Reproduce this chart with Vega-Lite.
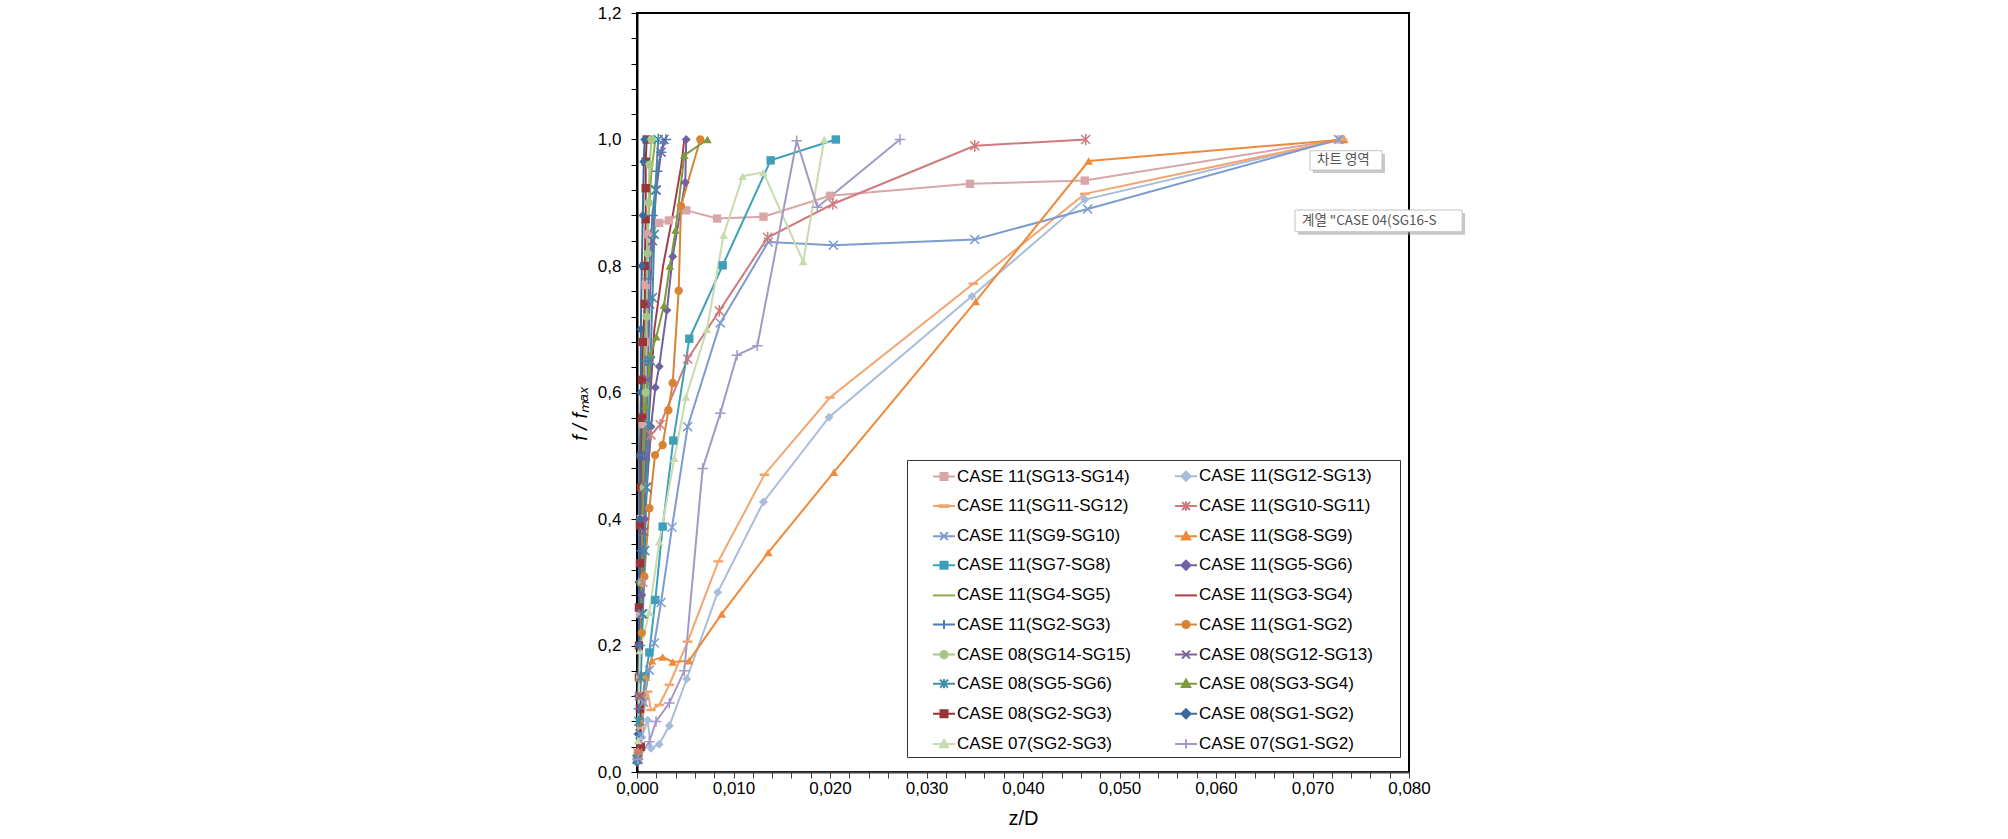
{
  "$schema": "https://vega.github.io/schema/vega-lite/v6.json",
  "autosize": "none",
  "width": 772,
  "height": 759,
  "padding": {"left": 637, "top": 13, "right": 599, "bottom": 67},
  "background": "white",
  "config": {
    "font": "Liberation Sans",
    "view": {"stroke": "#000", "strokeWidth": 2}
  },
  "data": {"values": [
    {"series":"CASE 11(SG13-SG14)","step":1,"zD":0.0001,"ff":0.03},
    {"series":"CASE 11(SG13-SG14)","step":2,"zD":0.0002,"ff":0.12},
    {"series":"CASE 11(SG13-SG14)","step":3,"zD":0.0003,"ff":0.25},
    {"series":"CASE 11(SG13-SG14)","step":4,"zD":0.0004,"ff":0.40},
    {"series":"CASE 11(SG13-SG14)","step":5,"zD":0.0006,"ff":0.55},
    {"series":"CASE 11(SG13-SG14)","step":6,"zD":0.0008,"ff":0.68},
    {"series":"CASE 11(SG13-SG14)","step":7,"zD":0.0009,"ff":0.77},
    {"series":"CASE 11(SG13-SG14)","step":8,"zD":0.0012,"ff":0.85},
    {"series":"CASE 11(SG13-SG14)","step":9,"zD":0.0023,"ff":0.868},
    {"series":"CASE 11(SG13-SG14)","step":10,"zD":0.0033,"ff":0.872},
    {"series":"CASE 11(SG13-SG14)","step":11,"zD":0.0051,"ff":0.888},
    {"series":"CASE 11(SG13-SG14)","step":12,"zD":0.0083,"ff":0.875},
    {"series":"CASE 11(SG13-SG14)","step":13,"zD":0.0131,"ff":0.878},
    {"series":"CASE 11(SG13-SG14)","step":14,"zD":0.0200,"ff":0.911},
    {"series":"CASE 11(SG13-SG14)","step":15,"zD":0.0345,"ff":0.930},
    {"series":"CASE 11(SG13-SG14)","step":16,"zD":0.0464,"ff":0.935},
    {"series":"CASE 11(SG13-SG14)","step":17,"zD":0.0729,"ff":1.000},

    {"series":"CASE 11(SG12-SG13)","step":1,"zD":0.0001,"ff":0.02},
    {"series":"CASE 11(SG12-SG13)","step":2,"zD":0.0005,"ff":0.055},
    {"series":"CASE 11(SG12-SG13)","step":3,"zD":0.0011,"ff":0.082},
    {"series":"CASE 11(SG12-SG13)","step":4,"zD":0.00145,"ff":0.0375},
    {"series":"CASE 11(SG12-SG13)","step":5,"zD":0.0023,"ff":0.044},
    {"series":"CASE 11(SG12-SG13)","step":6,"zD":0.00335,"ff":0.073},
    {"series":"CASE 11(SG12-SG13)","step":7,"zD":0.00515,"ff":0.147},
    {"series":"CASE 11(SG12-SG13)","step":8,"zD":0.00836,"ff":0.284},
    {"series":"CASE 11(SG12-SG13)","step":9,"zD":0.0131,"ff":0.427},
    {"series":"CASE 11(SG12-SG13)","step":10,"zD":0.0199,"ff":0.561},
    {"series":"CASE 11(SG12-SG13)","step":11,"zD":0.0347,"ff":0.752},
    {"series":"CASE 11(SG12-SG13)","step":12,"zD":0.0464,"ff":0.905},
    {"series":"CASE 11(SG12-SG13)","step":13,"zD":0.0730,"ff":1.000},

    {"series":"CASE 11(SG11-SG12)","step":1,"zD":0.0001,"ff":0.02},
    {"series":"CASE 11(SG11-SG12)","step":2,"zD":0.0004,"ff":0.07},
    {"series":"CASE 11(SG11-SG12)","step":3,"zD":0.0011,"ff":0.127},
    {"series":"CASE 11(SG11-SG12)","step":4,"zD":0.00145,"ff":0.098},
    {"series":"CASE 11(SG11-SG12)","step":5,"zD":0.0023,"ff":0.106},
    {"series":"CASE 11(SG11-SG12)","step":6,"zD":0.00335,"ff":0.138},
    {"series":"CASE 11(SG11-SG12)","step":7,"zD":0.00525,"ff":0.206},
    {"series":"CASE 11(SG11-SG12)","step":8,"zD":0.00843,"ff":0.333},
    {"series":"CASE 11(SG11-SG12)","step":9,"zD":0.0132,"ff":0.470},
    {"series":"CASE 11(SG11-SG12)","step":10,"zD":0.0200,"ff":0.592},
    {"series":"CASE 11(SG11-SG12)","step":11,"zD":0.03485,"ff":0.772},
    {"series":"CASE 11(SG11-SG12)","step":12,"zD":0.0464,"ff":0.914},
    {"series":"CASE 11(SG11-SG12)","step":13,"zD":0.0731,"ff":1.000},

    {"series":"CASE 11(SG10-SG11)","step":1,"zD":0.0001,"ff":0.03},
    {"series":"CASE 11(SG10-SG11)","step":2,"zD":0.0003,"ff":0.15},
    {"series":"CASE 11(SG10-SG11)","step":3,"zD":0.0006,"ff":0.30},
    {"series":"CASE 11(SG10-SG11)","step":4,"zD":0.0009,"ff":0.45},
    {"series":"CASE 11(SG10-SG11)","step":5,"zD":0.00145,"ff":0.533},
    {"series":"CASE 11(SG10-SG11)","step":6,"zD":0.0024,"ff":0.549},
    {"series":"CASE 11(SG10-SG11)","step":7,"zD":0.00525,"ff":0.653},
    {"series":"CASE 11(SG10-SG11)","step":8,"zD":0.00853,"ff":0.729},
    {"series":"CASE 11(SG10-SG11)","step":9,"zD":0.01354,"ff":0.845},
    {"series":"CASE 11(SG10-SG11)","step":10,"zD":0.0203,"ff":0.898},
    {"series":"CASE 11(SG10-SG11)","step":11,"zD":0.0350,"ff":0.990},
    {"series":"CASE 11(SG10-SG11)","step":12,"zD":0.0465,"ff":1.000},

    {"series":"CASE 11(SG9-SG10)","step":1,"zD":0.0001,"ff":0.02},
    {"series":"CASE 11(SG9-SG10)","step":2,"zD":0.0003,"ff":0.06},
    {"series":"CASE 11(SG9-SG10)","step":3,"zD":0.0007,"ff":0.11},
    {"series":"CASE 11(SG9-SG10)","step":4,"zD":0.00128,"ff":0.161},
    {"series":"CASE 11(SG9-SG10)","step":5,"zD":0.0018,"ff":0.204},
    {"series":"CASE 11(SG9-SG10)","step":6,"zD":0.00249,"ff":0.268},
    {"series":"CASE 11(SG9-SG10)","step":7,"zD":0.00363,"ff":0.387},
    {"series":"CASE 11(SG9-SG10)","step":8,"zD":0.00525,"ff":0.546},
    {"series":"CASE 11(SG9-SG10)","step":9,"zD":0.00863,"ff":0.710},
    {"series":"CASE 11(SG9-SG10)","step":10,"zD":0.0136,"ff":0.838},
    {"series":"CASE 11(SG9-SG10)","step":11,"zD":0.02035,"ff":0.833},
    {"series":"CASE 11(SG9-SG10)","step":12,"zD":0.0350,"ff":0.842},
    {"series":"CASE 11(SG9-SG10)","step":13,"zD":0.0467,"ff":0.890},
    {"series":"CASE 11(SG9-SG10)","step":14,"zD":0.0727,"ff":1.000},

    {"series":"CASE 11(SG8-SG9)","step":1,"zD":0.0001,"ff":0.02},
    {"series":"CASE 11(SG8-SG9)","step":2,"zD":0.0004,"ff":0.08},
    {"series":"CASE 11(SG8-SG9)","step":3,"zD":0.0009,"ff":0.15},
    {"series":"CASE 11(SG8-SG9)","step":4,"zD":0.00155,"ff":0.176},
    {"series":"CASE 11(SG8-SG9)","step":5,"zD":0.00266,"ff":0.182},
    {"series":"CASE 11(SG8-SG9)","step":6,"zD":0.0037,"ff":0.174},
    {"series":"CASE 11(SG8-SG9)","step":7,"zD":0.0054,"ff":0.176},
    {"series":"CASE 11(SG8-SG9)","step":8,"zD":0.00878,"ff":0.250},
    {"series":"CASE 11(SG8-SG9)","step":9,"zD":0.0136,"ff":0.347},
    {"series":"CASE 11(SG8-SG9)","step":10,"zD":0.0204,"ff":0.474},
    {"series":"CASE 11(SG8-SG9)","step":11,"zD":0.0351,"ff":0.744},
    {"series":"CASE 11(SG8-SG9)","step":12,"zD":0.0468,"ff":0.966},
    {"series":"CASE 11(SG8-SG9)","step":13,"zD":0.0733,"ff":1.000},

    {"series":"CASE 11(SG7-SG8)","step":1,"zD":0.0000,"ff":0.02},
    {"series":"CASE 11(SG7-SG8)","step":2,"zD":0.0003,"ff":0.08},
    {"series":"CASE 11(SG7-SG8)","step":3,"zD":0.00086,"ff":0.151},
    {"series":"CASE 11(SG7-SG8)","step":4,"zD":0.00128,"ff":0.189},
    {"series":"CASE 11(SG7-SG8)","step":5,"zD":0.0019,"ff":0.272},
    {"series":"CASE 11(SG7-SG8)","step":6,"zD":0.00266,"ff":0.388},
    {"series":"CASE 11(SG7-SG8)","step":7,"zD":0.00376,"ff":0.524},
    {"series":"CASE 11(SG7-SG8)","step":8,"zD":0.00542,"ff":0.685},
    {"series":"CASE 11(SG7-SG8)","step":9,"zD":0.00888,"ff":0.801},
    {"series":"CASE 11(SG7-SG8)","step":10,"zD":0.01385,"ff":0.967},
    {"series":"CASE 11(SG7-SG8)","step":11,"zD":0.0206,"ff":1.000},

    {"series":"CASE 11(SG5-SG6)","step":1,"zD":0.0001,"ff":0.03},
    {"series":"CASE 11(SG5-SG6)","step":2,"zD":0.0003,"ff":0.15},
    {"series":"CASE 11(SG5-SG6)","step":3,"zD":0.0005,"ff":0.28},
    {"series":"CASE 11(SG5-SG6)","step":4,"zD":0.0008,"ff":0.40},
    {"series":"CASE 11(SG5-SG6)","step":5,"zD":0.00145,"ff":0.546},
    {"series":"CASE 11(SG5-SG6)","step":6,"zD":0.0019,"ff":0.608},
    {"series":"CASE 11(SG5-SG6)","step":7,"zD":0.0023,"ff":0.641},
    {"series":"CASE 11(SG5-SG6)","step":8,"zD":0.0031,"ff":0.730},
    {"series":"CASE 11(SG5-SG6)","step":9,"zD":0.0037,"ff":0.815},
    {"series":"CASE 11(SG5-SG6)","step":10,"zD":0.0050,"ff":0.932},
    {"series":"CASE 11(SG5-SG6)","step":11,"zD":0.0051,"ff":1.000},

    {"series":"CASE 11(SG4-SG5)","step":1,"zD":0.0001,"ff":0.03},
    {"series":"CASE 11(SG4-SG5)","step":2,"zD":0.0003,"ff":0.20},
    {"series":"CASE 11(SG4-SG5)","step":3,"zD":0.0005,"ff":0.40},
    {"series":"CASE 11(SG4-SG5)","step":4,"zD":0.0007,"ff":0.60},
    {"series":"CASE 11(SG4-SG5)","step":5,"zD":0.0009,"ff":0.75},
    {"series":"CASE 11(SG4-SG5)","step":6,"zD":0.0012,"ff":0.88},
    {"series":"CASE 11(SG4-SG5)","step":7,"zD":0.0015,"ff":0.95},
    {"series":"CASE 11(SG4-SG5)","step":8,"zD":0.0019,"ff":1.000},

    {"series":"CASE 11(SG3-SG4)","step":1,"zD":0.0001,"ff":0.05},
    {"series":"CASE 11(SG3-SG4)","step":2,"zD":0.0004,"ff":0.20},
    {"series":"CASE 11(SG3-SG4)","step":3,"zD":0.0008,"ff":0.40},
    {"series":"CASE 11(SG3-SG4)","step":4,"zD":0.0012,"ff":0.55},
    {"series":"CASE 11(SG3-SG4)","step":5,"zD":0.0018,"ff":0.70},
    {"series":"CASE 11(SG3-SG4)","step":6,"zD":0.0027,"ff":0.80},
    {"series":"CASE 11(SG3-SG4)","step":7,"zD":0.0037,"ff":0.88},
    {"series":"CASE 11(SG3-SG4)","step":8,"zD":0.0046,"ff":0.96},
    {"series":"CASE 11(SG3-SG4)","step":9,"zD":0.0049,"ff":1.000},

    {"series":"CASE 11(SG2-SG3)","step":1,"zD":0.0001,"ff":0.02},
    {"series":"CASE 11(SG2-SG3)","step":2,"zD":0.0002,"ff":0.10},
    {"series":"CASE 11(SG2-SG3)","step":3,"zD":0.0003,"ff":0.20},
    {"series":"CASE 11(SG2-SG3)","step":4,"zD":0.0005,"ff":0.35},
    {"series":"CASE 11(SG2-SG3)","step":5,"zD":0.0007,"ff":0.50},
    {"series":"CASE 11(SG2-SG3)","step":6,"zD":0.0009,"ff":0.65},
    {"series":"CASE 11(SG2-SG3)","step":7,"zD":0.0012,"ff":0.78},
    {"series":"CASE 11(SG2-SG3)","step":8,"zD":0.0016,"ff":0.88},
    {"series":"CASE 11(SG2-SG3)","step":9,"zD":0.0021,"ff":0.95},
    {"series":"CASE 11(SG2-SG3)","step":10,"zD":0.0025,"ff":0.98},
    {"series":"CASE 11(SG2-SG3)","step":11,"zD":0.0030,"ff":1.000},

    {"series":"CASE 11(SG1-SG2)","step":1,"zD":0.0001,"ff":0.03},
    {"series":"CASE 11(SG1-SG2)","step":2,"zD":0.0003,"ff":0.12},
    {"series":"CASE 11(SG1-SG2)","step":3,"zD":0.0005,"ff":0.22},
    {"series":"CASE 11(SG1-SG2)","step":4,"zD":0.00076,"ff":0.309},
    {"series":"CASE 11(SG1-SG2)","step":5,"zD":0.00128,"ff":0.417},
    {"series":"CASE 11(SG1-SG2)","step":6,"zD":0.00187,"ff":0.501},
    {"series":"CASE 11(SG1-SG2)","step":7,"zD":0.00266,"ff":0.517},
    {"series":"CASE 11(SG1-SG2)","step":8,"zD":0.00325,"ff":0.572},
    {"series":"CASE 11(SG1-SG2)","step":9,"zD":0.0037,"ff":0.615},
    {"series":"CASE 11(SG1-SG2)","step":10,"zD":0.00432,"ff":0.761},
    {"series":"CASE 11(SG1-SG2)","step":11,"zD":0.00456,"ff":0.895},
    {"series":"CASE 11(SG1-SG2)","step":12,"zD":0.00656,"ff":1.000},

    {"series":"CASE 08(SG14-SG15)","step":1,"zD":0.0001,"ff":0.02},
    {"series":"CASE 08(SG14-SG15)","step":2,"zD":0.0003,"ff":0.15},
    {"series":"CASE 08(SG14-SG15)","step":3,"zD":0.0005,"ff":0.30},
    {"series":"CASE 08(SG14-SG15)","step":4,"zD":0.0007,"ff":0.45},
    {"series":"CASE 08(SG14-SG15)","step":5,"zD":0.0009,"ff":0.60},
    {"series":"CASE 08(SG14-SG15)","step":6,"zD":0.0010,"ff":0.72},
    {"series":"CASE 08(SG14-SG15)","step":7,"zD":0.0011,"ff":0.82},
    {"series":"CASE 08(SG14-SG15)","step":8,"zD":0.0012,"ff":0.90},
    {"series":"CASE 08(SG14-SG15)","step":9,"zD":0.0013,"ff":0.96},
    {"series":"CASE 08(SG14-SG15)","step":10,"zD":0.0015,"ff":1.000},

    {"series":"CASE 08(SG12-SG13)","step":1,"zD":0.0001,"ff":0.02},
    {"series":"CASE 08(SG12-SG13)","step":2,"zD":0.0003,"ff":0.12},
    {"series":"CASE 08(SG12-SG13)","step":3,"zD":0.0005,"ff":0.25},
    {"series":"CASE 08(SG12-SG13)","step":4,"zD":0.0007,"ff":0.38},
    {"series":"CASE 08(SG12-SG13)","step":5,"zD":0.0009,"ff":0.50},
    {"series":"CASE 08(SG12-SG13)","step":6,"zD":0.0011,"ff":0.62},
    {"series":"CASE 08(SG12-SG13)","step":7,"zD":0.0013,"ff":0.74},
    {"series":"CASE 08(SG12-SG13)","step":8,"zD":0.0016,"ff":0.84},
    {"series":"CASE 08(SG12-SG13)","step":9,"zD":0.0020,"ff":0.92},
    {"series":"CASE 08(SG12-SG13)","step":10,"zD":0.0025,"ff":0.98},
    {"series":"CASE 08(SG12-SG13)","step":11,"zD":0.0028,"ff":1.000},

    {"series":"CASE 08(SG5-SG6)","step":1,"zD":0.0000,"ff":0.02},
    {"series":"CASE 08(SG5-SG6)","step":2,"zD":0.0002,"ff":0.08},
    {"series":"CASE 08(SG5-SG6)","step":3,"zD":0.0004,"ff":0.15},
    {"series":"CASE 08(SG5-SG6)","step":4,"zD":0.0006,"ff":0.25},
    {"series":"CASE 08(SG5-SG6)","step":5,"zD":0.0008,"ff":0.35},
    {"series":"CASE 08(SG5-SG6)","step":6,"zD":0.0010,"ff":0.45},
    {"series":"CASE 08(SG5-SG6)","step":7,"zD":0.0012,"ff":0.55},
    {"series":"CASE 08(SG5-SG6)","step":8,"zD":0.0014,"ff":0.65},
    {"series":"CASE 08(SG5-SG6)","step":9,"zD":0.0016,"ff":0.75},
    {"series":"CASE 08(SG5-SG6)","step":10,"zD":0.0018,"ff":0.85},
    {"series":"CASE 08(SG5-SG6)","step":11,"zD":0.0019,"ff":0.92},
    {"series":"CASE 08(SG5-SG6)","step":12,"zD":0.0022,"ff":1.000},

    {"series":"CASE 08(SG3-SG4)","step":1,"zD":0.0001,"ff":0.03},
    {"series":"CASE 08(SG3-SG4)","step":2,"zD":0.0002,"ff":0.15},
    {"series":"CASE 08(SG3-SG4)","step":3,"zD":0.0004,"ff":0.30},
    {"series":"CASE 08(SG3-SG4)","step":4,"zD":0.0006,"ff":0.45},
    {"series":"CASE 08(SG3-SG4)","step":5,"zD":0.0009,"ff":0.58},
    {"series":"CASE 08(SG3-SG4)","step":6,"zD":0.0014,"ff":0.66},
    {"series":"CASE 08(SG3-SG4)","step":7,"zD":0.0020,"ff":0.688},
    {"series":"CASE 08(SG3-SG4)","step":8,"zD":0.0028,"ff":0.738},
    {"series":"CASE 08(SG3-SG4)","step":9,"zD":0.0034,"ff":0.800},
    {"series":"CASE 08(SG3-SG4)","step":10,"zD":0.0040,"ff":0.857},
    {"series":"CASE 08(SG3-SG4)","step":11,"zD":0.0049,"ff":0.975},
    {"series":"CASE 08(SG3-SG4)","step":12,"zD":0.0073,"ff":1.000},

    {"series":"CASE 08(SG2-SG3)","step":1,"zD":0.0004,"ff":0.04},
    {"series":"CASE 08(SG2-SG3)","step":2,"zD":0.0003,"ff":0.10},
    {"series":"CASE 08(SG2-SG3)","step":3,"zD":0.0002,"ff":0.15},
    {"series":"CASE 08(SG2-SG3)","step":4,"zD":0.0002,"ff":0.20},
    {"series":"CASE 08(SG2-SG3)","step":5,"zD":0.0002,"ff":0.26},
    {"series":"CASE 08(SG2-SG3)","step":6,"zD":0.0003,"ff":0.33},
    {"series":"CASE 08(SG2-SG3)","step":7,"zD":0.0003,"ff":0.39},
    {"series":"CASE 08(SG2-SG3)","step":8,"zD":0.0004,"ff":0.45},
    {"series":"CASE 08(SG2-SG3)","step":9,"zD":0.0004,"ff":0.50},
    {"series":"CASE 08(SG2-SG3)","step":10,"zD":0.0005,"ff":0.56},
    {"series":"CASE 08(SG2-SG3)","step":11,"zD":0.0005,"ff":0.62},
    {"series":"CASE 08(SG2-SG3)","step":12,"zD":0.0006,"ff":0.68},
    {"series":"CASE 08(SG2-SG3)","step":13,"zD":0.0008,"ff":0.74},
    {"series":"CASE 08(SG2-SG3)","step":14,"zD":0.0008,"ff":0.80},
    {"series":"CASE 08(SG2-SG3)","step":15,"zD":0.0009,"ff":0.874},
    {"series":"CASE 08(SG2-SG3)","step":16,"zD":0.0009,"ff":0.923},
    {"series":"CASE 08(SG2-SG3)","step":17,"zD":0.0009,"ff":0.965},
    {"series":"CASE 08(SG2-SG3)","step":18,"zD":0.0010,"ff":1.000},

    {"series":"CASE 08(SG1-SG2)","step":1,"zD":0.0000,"ff":0.015},
    {"series":"CASE 08(SG1-SG2)","step":2,"zD":0.0001,"ff":0.06},
    {"series":"CASE 08(SG1-SG2)","step":3,"zD":0.0001,"ff":0.12},
    {"series":"CASE 08(SG1-SG2)","step":4,"zD":0.0002,"ff":0.20},
    {"series":"CASE 08(SG1-SG2)","step":5,"zD":0.0002,"ff":0.30},
    {"series":"CASE 08(SG1-SG2)","step":6,"zD":0.0003,"ff":0.40},
    {"series":"CASE 08(SG1-SG2)","step":7,"zD":0.0003,"ff":0.50},
    {"series":"CASE 08(SG1-SG2)","step":8,"zD":0.0004,"ff":0.60},
    {"series":"CASE 08(SG1-SG2)","step":9,"zD":0.0004,"ff":0.70},
    {"series":"CASE 08(SG1-SG2)","step":10,"zD":0.0005,"ff":0.80},
    {"series":"CASE 08(SG1-SG2)","step":11,"zD":0.0006,"ff":0.88},
    {"series":"CASE 08(SG1-SG2)","step":12,"zD":0.0007,"ff":0.965},
    {"series":"CASE 08(SG1-SG2)","step":13,"zD":0.0008,"ff":1.000},

    {"series":"CASE 07(SG2-SG3)","step":1,"zD":0.0001,"ff":0.05},
    {"series":"CASE 07(SG2-SG3)","step":2,"zD":0.0003,"ff":0.192},
    {"series":"CASE 07(SG2-SG3)","step":3,"zD":0.00128,"ff":0.252},
    {"series":"CASE 07(SG2-SG3)","step":4,"zD":0.00231,"ff":0.364},
    {"series":"CASE 07(SG2-SG3)","step":5,"zD":0.00387,"ff":0.496},
    {"series":"CASE 07(SG2-SG3)","step":6,"zD":0.00508,"ff":0.593},
    {"series":"CASE 07(SG2-SG3)","step":7,"zD":0.00725,"ff":0.700},
    {"series":"CASE 07(SG2-SG3)","step":8,"zD":0.00898,"ff":0.849},
    {"series":"CASE 07(SG2-SG3)","step":9,"zD":0.01095,"ff":0.942},
    {"series":"CASE 07(SG2-SG3)","step":10,"zD":0.01309,"ff":0.948},
    {"series":"CASE 07(SG2-SG3)","step":11,"zD":0.01723,"ff":0.807},
    {"series":"CASE 07(SG2-SG3)","step":12,"zD":0.0194,"ff":1.000},

    {"series":"CASE 07(SG1-SG2)","step":1,"zD":0.0001,"ff":0.02},
    {"series":"CASE 07(SG1-SG2)","step":2,"zD":0.00128,"ff":0.048},
    {"series":"CASE 07(SG1-SG2)","step":3,"zD":0.00197,"ff":0.080},
    {"series":"CASE 07(SG1-SG2)","step":4,"zD":0.00335,"ff":0.109},
    {"series":"CASE 07(SG1-SG2)","step":5,"zD":0.0049,"ff":0.160},
    {"series":"CASE 07(SG1-SG2)","step":6,"zD":0.0068,"ff":0.480},
    {"series":"CASE 07(SG1-SG2)","step":7,"zD":0.00863,"ff":0.567},
    {"series":"CASE 07(SG1-SG2)","step":8,"zD":0.01036,"ff":0.659},
    {"series":"CASE 07(SG1-SG2)","step":9,"zD":0.01247,"ff":0.674},
    {"series":"CASE 07(SG1-SG2)","step":10,"zD":0.01655,"ff":0.998},
    {"series":"CASE 07(SG1-SG2)","step":11,"zD":0.01869,"ff":0.893},
    {"series":"CASE 07(SG1-SG2)","step":12,"zD":0.02725,"ff":1.000}
  ]},
  "encoding": {
    "x": {
      "field": "zD", "type": "quantitative",
      "scale": {"domain": [0, 0.08], "nice": false},
      "axis": {
        "title": "z/D",
        "values": [0,0.002,0.004,0.006,0.008,0.01,0.012,0.014,0.016,0.018,0.02,0.022,0.024,0.026,0.028,0.03,0.032,0.034,0.036,0.038,0.04,0.042,0.044,0.046,0.048,0.05,0.052,0.054,0.056,0.058,0.06,0.062,0.064,0.066,0.068,0.07,0.072,0.074,0.076,0.078,0.08],
        "labelExpr": "abs(datum.value*100 - round(datum.value*100)) < 0.001 ? replace(format(datum.value, '.3f'), '.', ',') : ''",
        "tickSize": 6,
        "tickColor": "#404040", "tickWidth": 1,
        "domainColor": "#404040", "domainWidth": 2,
        "labelFontSize": 17, "labelColor": "#000", "labelPadding": 2,
        "labelOverlap": false, "labelFlush": false,
        "grid": false,
        "titleFontSize": 20, "titleFontWeight": "normal", "titleColor": "#000", "titlePadding": 12,
        "encode": {
          "ticks": {
            "y2": {"condition": {"test": "abs(datum.value*100 - round(datum.value*100)) < 0.001", "value": 6}, "value": 4}
          }
        }
      }
    },
    "y": {
      "field": "ff", "type": "quantitative",
      "scale": {"domain": [0, 1.2], "nice": false},
      "axis": {
        "title": "f / fₘₐₓ",
        "titleX": -47,
        "titleY": 400,
        "values": [0,0.04,0.08,0.12,0.16,0.2,0.24,0.28,0.32,0.36,0.4,0.44,0.48,0.52,0.56,0.6,0.64,0.68,0.72,0.76,0.8,0.84,0.88,0.92,0.96,1,1.04,1.08,1.12,1.16,1.2],
        "labelExpr": "abs(datum.value*5 - round(datum.value*5)) < 0.001 ? replace(format(datum.value, '.1f'), '.', ',') : ''",
        "tickSize": 6,
        "tickColor": "#000", "tickWidth": 1,
        "domainColor": "#000", "domainWidth": 2,
        "labelFontSize": 17, "labelColor": "#000", "labelPadding": 10,
        "labelOverlap": false, "labelFlush": false,
        "grid": false,
        "titleFontSize": 20, "titleFontWeight": "normal", "titleFontStyle": "italic", "titleColor": "#000", "titlePadding": 6,
        "encode": {
          "ticks": {
            "x2": {"condition": {"test": "abs(datum.value*5 - round(datum.value*5)) < 0.001", "value": -6}, "value": 4}
          }
        }
      }
    },
    "color": {
      "field": "series", "type": "nominal",
      "scale": {
        "domain": ["CASE 11(SG13-SG14)","CASE 11(SG12-SG13)","CASE 11(SG11-SG12)","CASE 11(SG10-SG11)","CASE 11(SG9-SG10)","CASE 11(SG8-SG9)","CASE 11(SG7-SG8)","CASE 11(SG5-SG6)","CASE 11(SG4-SG5)","CASE 11(SG3-SG4)","CASE 11(SG2-SG3)","CASE 11(SG1-SG2)","CASE 08(SG14-SG15)","CASE 08(SG12-SG13)","CASE 08(SG5-SG6)","CASE 08(SG3-SG4)","CASE 08(SG2-SG3)","CASE 08(SG1-SG2)","CASE 07(SG2-SG3)","CASE 07(SG1-SG2)"],
        "range": ["#D9A6A8","#A8BCDB","#F4A46E","#CF7B7D","#7D9BCF","#EE8A3C","#3D9FB9","#7161A2","#8CAA4A","#A43E4B","#4B7CB4","#D98334","#A6C785","#7E609F","#3F8EA6","#7D9B3D","#9B3434","#3B6A9C","#C6DBAE","#A498C7"]
      },
      "legend": null
    }
  },
  "layer": [
    {
      "mark": {"type": "line", "strokeWidth": 2},
      "encoding": {"order": {"field": "step", "type": "quantitative"}}
    },
    {
      "transform": [{"filter": {"field": "series", "oneOf": ["CASE 11(SG13-SG14)","CASE 11(SG7-SG8)","CASE 08(SG2-SG3)"]}}],
      "mark": {"type": "point", "shape": "square", "filled": true, "size": 70, "opacity": 1}
    },
    {
      "transform": [{"filter": {"field": "series", "oneOf": ["CASE 11(SG12-SG13)","CASE 11(SG5-SG6)","CASE 08(SG1-SG2)"]}}],
      "mark": {"type": "point", "shape": "diamond", "filled": true, "size": 80, "opacity": 1}
    },
    {
      "transform": [{"filter": {"field": "series", "oneOf": ["CASE 11(SG8-SG9)","CASE 08(SG3-SG4)","CASE 07(SG2-SG3)"]}}],
      "mark": {"type": "point", "shape": "triangle-up", "filled": true, "size": 75, "opacity": 1}
    },
    {
      "transform": [{"filter": {"field": "series", "oneOf": ["CASE 11(SG1-SG2)","CASE 08(SG14-SG15)"]}}],
      "mark": {"type": "point", "shape": "circle", "filled": true, "size": 70, "opacity": 1}
    },
    {
      "transform": [{"filter": {"field": "series", "oneOf": ["CASE 11(SG11-SG12)"]}}],
      "mark": {"type": "point", "shape": "M-1,0H1", "filled": false, "size": 90, "strokeWidth": 2.5, "opacity": 1}
    },
    {
      "transform": [{"filter": {"field": "series", "oneOf": ["CASE 11(SG9-SG10)","CASE 08(SG12-SG13)"]}}],
      "mark": {"type": "point", "shape": "M-1,-1L1,1M-1,1L1,-1", "filled": false, "size": 80, "strokeWidth": 1.5, "opacity": 1}
    },
    {
      "transform": [{"filter": {"field": "series", "oneOf": ["CASE 11(SG10-SG11)","CASE 08(SG5-SG6)"]}}],
      "mark": {"type": "point", "shape": "M-1,-1L1,1M-1,1L1,-1M0,-1.3V1.3", "filled": false, "size": 80, "strokeWidth": 1.5, "opacity": 1}
    },
    {
      "transform": [{"filter": {"field": "series", "oneOf": ["CASE 11(SG2-SG3)","CASE 07(SG1-SG2)"]}}],
      "mark": {"type": "point", "shape": "M-1,0H1M0,-1V1", "filled": false, "size": 110, "strokeWidth": 1.5, "opacity": 1}
    },
    {
      "transform": [{"filter": "false"}],
      "mark": {"type": "point", "opacity": 1},
      "encoding": {
        "fill": {
          "field": "series", "type": "nominal",
          "scale": {
            "domain": ["CASE 11(SG13-SG14)","CASE 11(SG12-SG13)","CASE 11(SG11-SG12)","CASE 11(SG10-SG11)","CASE 11(SG9-SG10)","CASE 11(SG8-SG9)","CASE 11(SG7-SG8)","CASE 11(SG5-SG6)","CASE 11(SG4-SG5)","CASE 11(SG3-SG4)","CASE 11(SG2-SG3)","CASE 11(SG1-SG2)","CASE 08(SG14-SG15)","CASE 08(SG12-SG13)","CASE 08(SG5-SG6)","CASE 08(SG3-SG4)","CASE 08(SG2-SG3)","CASE 08(SG1-SG2)","CASE 07(SG2-SG3)","CASE 07(SG1-SG2)",""],
            "range": ["#D9A6A8","#A8BCDB","#F4A46E","#CF7B7D","#7D9BCF","#EE8A3C","#3D9FB9","#7161A2","#8CAA4A","#A43E4B","#4B7CB4","#D98334","#A6C785","#7E609F","#3F8EA6","#7D9B3D","#9B3434","#3B6A9C","#C6DBAE","#A498C7","#ffffff"]
          },
          "legend": {
            "title": null, "orient": "none", "legendX": 270, "legendY": 447,
            "values": ["CASE 11(SG13-SG14)","CASE 11(SG11-SG12)","CASE 11(SG9-SG10)","CASE 11(SG7-SG8)","CASE 11(SG4-SG5)","CASE 11(SG2-SG3)","CASE 08(SG14-SG15)","CASE 08(SG5-SG6)","CASE 08(SG2-SG3)","CASE 07(SG2-SG3)","CASE 11(SG12-SG13)","CASE 11(SG10-SG11)","CASE 11(SG8-SG9)","CASE 11(SG5-SG6)","CASE 11(SG3-SG4)","CASE 11(SG1-SG2)","CASE 08(SG12-SG13)","CASE 08(SG3-SG4)","CASE 08(SG1-SG2)","CASE 07(SG1-SG2)"],
            "columns": 2, "columnPadding": 22, "rowPadding": 9.1, "padding": 4,
            "fillColor": "#fff", "strokeColor": "#333", "cornerRadius": 0,
            "labelFont": "Liberation Sans", "labelFontSize": 17, "labelColor": "#000", "labelLimit": 400, "labelOffset": 22,
            "labelExpr": "datum.label + '   '",
            "symbolSize": 484, "symbolStrokeWidth": 2, "symbolOpacity": 1
          }
        },
        "stroke": {
          "field": "series", "type": "nominal",
          "scale": {
            "domain": ["CASE 11(SG13-SG14)","CASE 11(SG12-SG13)","CASE 11(SG11-SG12)","CASE 11(SG10-SG11)","CASE 11(SG9-SG10)","CASE 11(SG8-SG9)","CASE 11(SG7-SG8)","CASE 11(SG5-SG6)","CASE 11(SG4-SG5)","CASE 11(SG3-SG4)","CASE 11(SG2-SG3)","CASE 11(SG1-SG2)","CASE 08(SG14-SG15)","CASE 08(SG12-SG13)","CASE 08(SG5-SG6)","CASE 08(SG3-SG4)","CASE 08(SG2-SG3)","CASE 08(SG1-SG2)","CASE 07(SG2-SG3)","CASE 07(SG1-SG2)",""],
            "range": ["#D9A6A8","#A8BCDB","#F4A46E","#CF7B7D","#7D9BCF","#EE8A3C","#3D9FB9","#7161A2","#8CAA4A","#A43E4B","#4B7CB4","#D98334","#A6C785","#7E609F","#3F8EA6","#7D9B3D","#9B3434","#3B6A9C","#C6DBAE","#A498C7","#ffffff"]
          },
          "legend": {
            "title": null, "orient": "none", "legendX": 270, "legendY": 447,
            "values": ["CASE 11(SG13-SG14)","CASE 11(SG11-SG12)","CASE 11(SG9-SG10)","CASE 11(SG7-SG8)","CASE 11(SG4-SG5)","CASE 11(SG2-SG3)","CASE 08(SG14-SG15)","CASE 08(SG5-SG6)","CASE 08(SG2-SG3)","CASE 07(SG2-SG3)","CASE 11(SG12-SG13)","CASE 11(SG10-SG11)","CASE 11(SG8-SG9)","CASE 11(SG5-SG6)","CASE 11(SG3-SG4)","CASE 11(SG1-SG2)","CASE 08(SG12-SG13)","CASE 08(SG3-SG4)","CASE 08(SG1-SG2)","CASE 07(SG1-SG2)"],
            "columns": 2, "columnPadding": 22, "rowPadding": 9.1, "padding": 4,
            "fillColor": "#fff", "strokeColor": "#333", "cornerRadius": 0,
            "labelFont": "Liberation Sans", "labelFontSize": 17, "labelColor": "#000", "labelLimit": 400, "labelOffset": 22,
            "labelExpr": "datum.label + '   '",
            "symbolSize": 484, "symbolStrokeWidth": 2, "symbolOpacity": 1
          }
        },
        "shape": {
          "field": "series", "type": "nominal",
          "scale": {
            "domain": ["CASE 11(SG13-SG14)","CASE 11(SG12-SG13)","CASE 11(SG11-SG12)","CASE 11(SG10-SG11)","CASE 11(SG9-SG10)","CASE 11(SG8-SG9)","CASE 11(SG7-SG8)","CASE 11(SG5-SG6)","CASE 11(SG4-SG5)","CASE 11(SG3-SG4)","CASE 11(SG2-SG3)","CASE 11(SG1-SG2)","CASE 08(SG14-SG15)","CASE 08(SG12-SG13)","CASE 08(SG5-SG6)","CASE 08(SG3-SG4)","CASE 08(SG2-SG3)","CASE 08(SG1-SG2)","CASE 07(SG2-SG3)","CASE 07(SG1-SG2)",""],
            "range": [
              "M0.91,0H2.91M1.59,-0.32H2.23V0.32H1.59Z",
              "M20.6,0M0.91,0H2.91M1.91,-0.42L2.33,0L1.91,0.42L1.49,0Z",
              "M0.91,0H2.91M1.51,-0.08H2.31V0.08H1.51Z",
              "M20.6,0M0.91,0H2.91M1.55,-0.36L2.27,0.36M1.55,0.36L2.27,-0.36M1.91,-0.42V0.42",
              "M0.91,0H2.91M1.55,-0.36L2.27,0.36M1.55,0.36L2.27,-0.36",
              "M20.6,0M0.91,0H2.91M1.91,-0.38L2.29,0.3H1.53Z",
              "M0.91,0H2.91M1.59,-0.32H2.23V0.32H1.59Z",
              "M20.6,0M0.91,0H2.91M1.91,-0.42L2.33,0L1.91,0.42L1.49,0Z",
              "M0.91,0H2.91",
              "M20.6,0M0.91,0H2.91",
              "M0.91,0H2.91M1.91,-0.42V0.42",
              "M20.6,0M0.91,0H2.91M2.25,0L2.15,0.24L1.91,0.34L1.67,0.24L1.57,0L1.67,-0.24L1.91,-0.34L2.15,-0.24Z",
              "M0.91,0H2.91M2.25,0L2.15,0.24L1.91,0.34L1.67,0.24L1.57,0L1.67,-0.24L1.91,-0.34L2.15,-0.24Z",
              "M20.6,0M0.91,0H2.91M1.55,-0.36L2.27,0.36M1.55,0.36L2.27,-0.36",
              "M0.91,0H2.91M1.55,-0.36L2.27,0.36M1.55,0.36L2.27,-0.36M1.91,-0.42V0.42",
              "M20.6,0M0.91,0H2.91M1.91,-0.38L2.29,0.3H1.53Z",
              "M0.91,0H2.91M1.59,-0.32H2.23V0.32H1.59Z",
              "M20.6,0M0.91,0H2.91M1.91,-0.42L2.33,0L1.91,0.42L1.49,0Z",
              "M0.91,0H2.91M1.91,-0.38L2.29,0.3H1.53Z",
              "M20.6,0M0.91,0H2.91M1.91,-0.42V0.42",
              "M0.91,0H2.91"
            ]
          },
          "legend": {
            "title": null, "orient": "none", "legendX": 270, "legendY": 447,
            "values": ["CASE 11(SG13-SG14)","CASE 11(SG11-SG12)","CASE 11(SG9-SG10)","CASE 11(SG7-SG8)","CASE 11(SG4-SG5)","CASE 11(SG2-SG3)","CASE 08(SG14-SG15)","CASE 08(SG5-SG6)","CASE 08(SG2-SG3)","CASE 07(SG2-SG3)","CASE 11(SG12-SG13)","CASE 11(SG10-SG11)","CASE 11(SG8-SG9)","CASE 11(SG5-SG6)","CASE 11(SG3-SG4)","CASE 11(SG1-SG2)","CASE 08(SG12-SG13)","CASE 08(SG3-SG4)","CASE 08(SG1-SG2)","CASE 07(SG1-SG2)"],
            "columns": 2, "columnPadding": 22, "rowPadding": 9.1, "padding": 4,
            "fillColor": "#fff", "strokeColor": "#333", "cornerRadius": 0,
            "labelFont": "Liberation Sans", "labelFontSize": 17, "labelColor": "#000", "labelLimit": 400, "labelOffset": 22,
            "labelExpr": "datum.label + '   '",
            "symbolSize": 484, "symbolStrokeWidth": 2, "symbolOpacity": 1
          }
        }
      }
    },
    {
      "data": {"values": [
        {"tip": "차트 영역", "x1": 0.06974, "x2": 0.0772, "y1": 0.9518, "y2": 0.9823, "tx": 0.07047, "ty": 0.9671},
        {"tip": "계열 \"CASE 04(SG16-S", "x1": 0.06819, "x2": 0.0855, "y1": 0.8542, "y2": 0.8885, "tx": 0.06891, "ty": 0.8711}
      ]},
      "layer": [
        {
          "mark": {"type": "rect", "fill": "#9a9a9a", "opacity": 0.55, "xOffset": 3, "x2Offset": 3, "yOffset": 3, "y2Offset": 3},
          "encoding": {
            "x": {"field": "x1", "type": "quantitative"},
            "x2": {"field": "x2"},
            "y": {"field": "y1", "type": "quantitative"},
            "y2": {"field": "y2"},
            "color": {"value": "#9a9a9a"}
          }
        },
        {
          "mark": {"type": "rect", "fill": "#fff", "stroke": "#c4c4c4", "strokeWidth": 1},
          "encoding": {
            "x": {"field": "x1", "type": "quantitative"},
            "x2": {"field": "x2"},
            "y": {"field": "y1", "type": "quantitative"},
            "y2": {"field": "y2"},
            "color": {"value": "#fff"}
          }
        },
        {
          "mark": {"type": "text", "align": "left", "baseline": "middle", "font": "Noto Sans CJK KR", "fontSize": 13.5, "fill": "#555"},
          "encoding": {
            "x": {"field": "tx", "type": "quantitative"},
            "y": {"field": "ty", "type": "quantitative"},
            "text": {"field": "tip"},
            "color": {"value": "#555"}
          }
        }
      ]
    }
  ]
}
